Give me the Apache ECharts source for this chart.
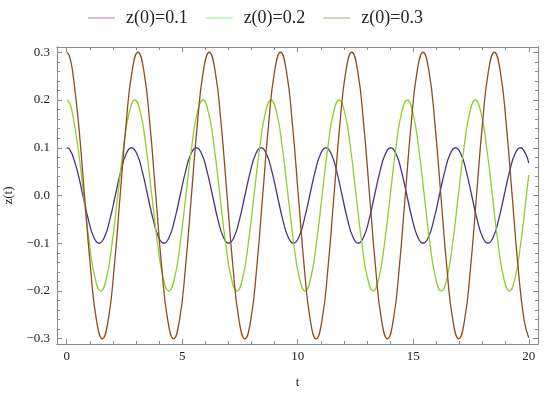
<!DOCTYPE html>
<html><head><meta charset="utf-8">
<script src="https://cdn.jsdelivr.net/npm/echarts@6/dist/echarts.min.js"></script>
<style>html,body{margin:0;padding:0;background:#fff}#c{width:550px;height:393px}</style>
</head><body><div id="c"></div>
<script>
const seriesNames = ['z(0)=0.1', 'z(0)=0.2', 'z(0)=0.3'];

const t1 = [
 0, 0.058, 0.117, 0.175, 0.234, 0.468, 0.701, 0.935, 1.169, 1.403, 1.636, 1.870, 2.104, 2.338, 2.571,
 2.805, 3.039, 3.273, 3.506, 3.740, 3.974, 4.208, 4.441, 4.675, 4.909, 5.143, 5.376,
 5.610, 5.844, 6.078, 6.311, 6.545, 6.779, 7.013, 7.246, 7.480, 7.714, 7.948, 8.181,
 8.415, 8.649, 8.883, 9.116, 9.350, 9.584, 9.818, 10.051, 10.285, 10.519, 10.753, 10.986,
 11.220, 11.454, 11.688, 11.921, 12.155, 12.389, 12.623, 12.856, 13.090, 13.324, 13.558, 13.791,
 14.025, 14.259, 14.493, 14.726, 14.960, 15.194, 15.428, 15.661, 15.895, 16.129, 16.363, 16.596,
 16.830, 17.064, 17.298, 17.531, 17.765, 17.999, 18.233, 18.466, 18.700, 18.934, 19.168, 19.401,
 19.635, 19.869, 20
];
const z1 = [
 0.1, 0.099, 0.097, 0.092, 0.087, 0.05, 0, -0.05, -0.087, -0.1, -0.087, -0.05, 0, 0.05, 0.087,
 0.1, 0.087, 0.05, 0, -0.05, -0.087, -0.1, -0.087, -0.05, 0, 0.05, 0.087,
 0.1, 0.087, 0.05, 0, -0.05, -0.087, -0.1, -0.087, -0.05, 0, 0.05, 0.087,
 0.1, 0.087, 0.05, 0, -0.05, -0.087, -0.1, -0.087, -0.05, 0, 0.05, 0.087,
 0.1, 0.087, 0.05, 0, -0.05, -0.087, -0.1, -0.087, -0.05, 0, 0.05, 0.087,
 0.1, 0.087, 0.05, 0, -0.05, -0.087, -0.1, -0.087, -0.05, 0, 0.05, 0.087,
 0.1, 0.087, 0.05, 0, -0.05, -0.087, -0.1, -0.087, -0.05, 0, 0.05, 0.087,
 0.1, 0.087, 0.068
];

const t2 = [
 0, 0.061, 0.123, 0.184, 0.246, 0.491, 0.737, 0.983, 1.228, 1.474, 1.720, 1.965, 2.211, 2.457, 2.702,
 2.948, 3.194, 3.439, 3.685, 3.931, 4.176, 4.422, 4.668, 4.913, 5.159, 5.405, 5.650,
 5.896, 6.142, 6.387, 6.633, 6.879, 7.124, 7.370, 7.616, 7.861, 8.107, 8.353, 8.598,
 8.844, 9.090, 9.335, 9.581, 9.827, 10.072, 10.318, 10.564, 10.809, 11.055, 11.301, 11.546,
 11.792, 12.038, 12.283, 12.529, 12.775, 13.020, 13.266, 13.512, 13.757, 14.003, 14.249, 14.494,
 14.740, 14.986, 15.231, 15.477, 15.723, 15.968, 16.214, 16.460, 16.705, 16.951, 17.197, 17.442,
 17.688, 17.934, 18.179, 18.425, 18.671, 18.916, 19.162, 19.408, 19.653, 19.899, 20
];
const z2 = [
 0.2, 0.198, 0.193, 0.185, 0.173, 0.1, 0, -0.1, -0.173, -0.2, -0.173, -0.1, 0, 0.1, 0.173,
 0.2, 0.173, 0.1, 0, -0.1, -0.173, -0.2, -0.173, -0.1, 0, 0.1, 0.173,
 0.2, 0.173, 0.1, 0, -0.1, -0.173, -0.2, -0.173, -0.1, 0, 0.1, 0.173,
 0.2, 0.173, 0.1, 0, -0.1, -0.173, -0.2, -0.173, -0.1, 0, 0.1, 0.173,
 0.2, 0.173, 0.1, 0, -0.1, -0.173, -0.2, -0.173, -0.1, 0, 0.1, 0.173,
 0.2, 0.173, 0.1, 0, -0.1, -0.173, -0.2, -0.173, -0.1, 0, 0.1, 0.173,
 0.2, 0.173, 0.1, 0, -0.1, -0.173, -0.2, -0.173, -0.1, 0, 0.043
];

const t3 = [
 0, 0.064, 0.129, 0.193, 0.257, 0.514, 0.771, 1.028, 1.285, 1.543, 1.800, 2.057, 2.314, 2.571, 2.828,
 3.085, 3.342, 3.599, 3.856, 4.113, 4.370, 4.628, 4.885, 5.142, 5.399, 5.656, 5.913,
 6.170, 6.427, 6.684, 6.941, 7.198, 7.455, 7.713, 7.970, 8.227, 8.484, 8.741, 8.998,
 9.255, 9.512, 9.769, 10.026, 10.283, 10.540, 10.798, 11.055, 11.312, 11.569, 11.826, 12.083,
 12.340, 12.597, 12.854, 13.111, 13.368, 13.625, 13.883, 14.140, 14.397, 14.654, 14.911, 15.168,
 15.425, 15.682, 15.939, 16.196, 16.453, 16.710, 16.968, 17.225, 17.482, 17.739, 17.996, 18.253,
 18.510, 18.767, 19.024, 19.281, 19.538, 19.795, 20
];
const z3 = [
 0.3, 0.297, 0.29, 0.277, 0.26, 0.15, 0, -0.15, -0.26, -0.3, -0.26, -0.15, 0, 0.15, 0.26,
 0.3, 0.26, 0.15, 0, -0.15, -0.26, -0.3, -0.26, -0.15, 0, 0.15, 0.26,
 0.3, 0.26, 0.15, 0, -0.15, -0.26, -0.3, -0.26, -0.15, 0, 0.15, 0.26,
 0.3, 0.26, 0.15, 0, -0.15, -0.26, -0.3, -0.26, -0.15, 0, 0.15, 0.26,
 0.3, 0.26, 0.15, 0, -0.15, -0.26, -0.3, -0.26, -0.15, 0, 0.15, 0.26,
 0.3, 0.26, 0.15, 0, -0.15, -0.26, -0.3, -0.26, -0.15, 0, 0.15, 0.26,
 0.3, 0.26, 0.15, 0, -0.15, -0.26, -0.298
];

const xMajorTicks = [0, 5, 10, 15, 20];
const xMinorTicks = [0,1,2,3,4,5,6,7,8,9,10,11,12,13,14,15,16,17,18,19,20];
const yMajorTicks = [-0.3, -0.2, -0.1, 0, 0.1, 0.2, 0.3];
const yMinorTicks = [-0.3,-0.28,-0.26,-0.24,-0.22,-0.2,-0.18,-0.16,-0.14,-0.12,-0.1,-0.08,-0.06,-0.04,-0.02,0,
  0.02,0.04,0.06,0.08,0.1,0.12,0.14,0.16,0.18,0.2,0.22,0.24,0.26,0.28,0.3];

const lineColors = ['#4a3388', '#8fcf2e', '#8c4f22'];
const legendColors = ['#b47cbc', '#8ce88c', '#b4a484'];

const FONT = 'Liberation Serif';
const AX = '#8a8a8a';
const XMIN = -0.42, XMAX = 20.4, YMIN = -0.311, YMAX = 0.311;

function xAxis(pos, ticks, len, labels, name) {
  return {
    type: 'value', position: pos, min: XMIN, max: XMAX,
    name: name || '', nameLocation: 'middle', nameGap: 32,
    nameTextStyle: {fontFamily: FONT, fontSize: 13, color: '#222'},
    axisLine: {show: true, onZero: false, lineStyle: {color: AX, width: 1}},
    axisTick: {show: true, inside: true, length: len, customValues: ticks, lineStyle: {color: AX}},
    axisLabel: {show: labels, customValues: xMajorTicks, margin: 6, fontFamily: FONT, fontSize: 13, color: '#222'},
    splitLine: {show: false}
  };
}
function yAxis(pos, ticks, len, labels, name) {
  return {
    type: 'value', position: pos, min: YMIN, max: YMAX,
    name: name || '', nameLocation: 'middle', nameGap: 39, nameRotate: 90,
    nameTextStyle: {fontFamily: FONT, fontSize: 13, color: '#222'},
    axisLine: {show: true, onZero: false, lineStyle: {color: AX, width: 1}},
    axisTick: {show: true, inside: true, length: len, customValues: ticks, lineStyle: {color: AX}},
    axisLabel: {show: labels, customValues: yMajorTicks, margin: 7, fontFamily: FONT, fontSize: 13, color: '#222',
      formatter: v => (v < 0 ? '\u2212' : '') + Math.abs(v).toFixed(1)},
    splitLine: {show: false}
  };
}

const tz = [[t1, z1], [t2, z2], [t3, z3]];

const chart = echarts.init(document.getElementById('c'), null, {renderer: 'canvas'});
chart.setOption({
  animation: false,
  backgroundColor: '#fff',
  grid: {left: 57, right: 12, top: 47, bottom: 49, containLabel: false, outerBoundsMode: 'none'},
  legend: {
    left: 83, top: 4, itemWidth: 27, itemHeight: 10, itemGap: 18,
    data: seriesNames.map((n, i) => ({name: n, icon: 'path://M0,4.5H27V5.5H0Z', itemStyle: {color: legendColors[i]}, lineStyle: {color: legendColors[i], width: 2}})),
    textStyle: {fontFamily: FONT, fontSize: 18, color: '#222', padding: [0, 0, 0, 6]}
  },
  xAxis: [
    xAxis('bottom', xMajorTicks, 5, true, 't'),
    xAxis('bottom', xMinorTicks, 3, false),
    xAxis('top', xMajorTicks, 5, false),
    xAxis('top', xMinorTicks, 3, false)
  ],
  yAxis: [
    yAxis('left', yMajorTicks, 5, true, 'z(t)'),
    yAxis('left', yMinorTicks, 3, false),
    yAxis('right', yMajorTicks, 5, false),
    yAxis('right', yMinorTicks, 3, false)
  ],
  series: tz.map((d, i) => ({
    name: seriesNames[i], type: 'line', xAxisIndex: 0, yAxisIndex: 0,
    data: d[0].map((t, k) => [t, d[1][k]]),
    showSymbol: false, symbol: 'none', smooth: 0.5,
    lineStyle: {color: lineColors[i], width: 1.3},
    itemStyle: {color: lineColors[i]},
    z: 2 + i
  }))
});
</script>
</body></html>
